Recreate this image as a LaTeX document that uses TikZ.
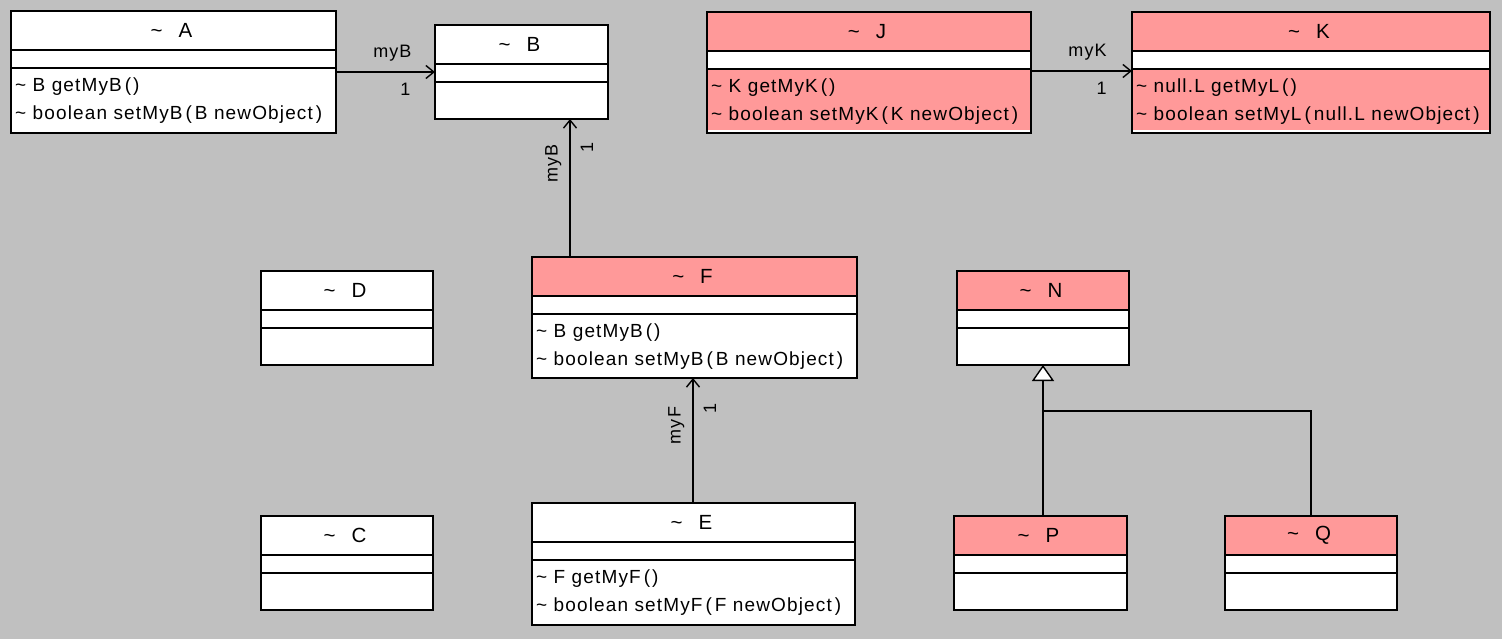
\documentclass[tikz,border=0pt]{standalone}
\usepackage{fontspec}
\setmainfont{Liberation Sans}
\newfontfamily\umlfont[LetterSpace=6]{Liberation Sans}
\usetikzlibrary{arrows.meta}
\definecolor{bgc}{HTML}{C0C0C0}
\definecolor{pinkc}{HTML}{FF9999}
\newcommand{\tildech}{\textasciitilde}
\newcommand{\pgap}{\hspace{3pt}}
\tikzset{
  clsnode/.style={fill=white, draw=none, inner sep=0pt, outer sep=0pt},
  boxline/.style={line width=1.6pt, draw=black},
  divline/.style={line width=1.6pt, draw=black},
  titletext/.style={font=\umlfont\fontsize{20.5}{22}\selectfont, inner sep=0pt},
  methtext/.style={font=\umlfont\fontsize{19}{21}\selectfont, inner sep=0pt, anchor=west},
  lbl/.style={font=\umlfont\fontsize{18}{20}\selectfont, inner sep=0pt},
  assoc/.style={line width=1.4pt, -{Straight Barb[length=8pt,width=13pt,line width=1.4pt]}},
  gen/.style={line width=1.4pt, -{Triangle[length=16pt,width=22pt,fill=white,line width=1.4pt]}},
  plainline/.style={line width=1.4pt}
}
% #1 name, #2 x, #3 y, #4 w, #5 h, #6 header fill, #7 methods fill, #8 title
\newcommand{\clsbox}[8]{%
  \node[clsnode, minimum width=#4pt, minimum height=#5pt, anchor=north west] (#1) at (#2,#3) {};
  \fill[#6] (#1.north west) rectangle ([yshift=-39pt]#1.north east);
  \fill[#7] ([yshift=-57pt]#1.north west) rectangle ([yshift=3pt]#1.south east);
  \draw[divline] ([yshift=-39pt]#1.north west) -- ([yshift=-39pt]#1.north east);
  \draw[divline] ([yshift=-57pt]#1.north west) -- ([yshift=-57pt]#1.north east);
  \draw[boxline] (#1.north west) rectangle (#1.south east);
  \node[titletext] (#1-title) at ([yshift=-19.5pt,xshift=-2pt]#1.north) {\tildech\hspace{16pt}#8};
}
% #1 name, #2 first method, #3 second method
\newcommand{\meths}[3]{%
  \node[methtext] (#1-m1) at ([xshift=4pt,yshift=-76pt]#1.north west) {#2};
  \node[methtext] (#1-m2) at ([xshift=4pt,yshift=-104pt]#1.north west) {#3};
}
\begin{document}
\begin{tikzpicture}[x=1pt,y=-1pt]
\fill[bgc] (0,0) rectangle (1502,639);
\useasboundingbox (0,0) rectangle (1502,639);

\clsbox{A}{11}{11}{325}{122}{white}{white}{A}
\meths{A}{\tildech\ B getMyB\pgap(\hspace{2pt})}{\tildech\ boolean setMyB\pgap(\pgap B newObject\pgap)}
\clsbox{B}{435}{25}{173}{94}{white}{white}{B}
\clsbox{J}{707}{12}{324}{121}{pinkc}{pinkc}{J}
\meths{J}{\tildech\ K getMyK\pgap(\hspace{2pt})}{\tildech\ boolean setMyK\pgap(\pgap K newObject\pgap)}
\clsbox{K}{1132}{12}{358}{121}{pinkc}{pinkc}{K}
\meths{K}{\tildech\ null.L getMyL\pgap(\hspace{2pt})}{\tildech\ boolean setMyL\pgap(\pgap null.L newObject\pgap)}
\clsbox{D}{261}{271}{172}{94}{white}{white}{D}
\clsbox{F}{532}{257}{325}{121}{pinkc}{white}{F}
\meths{F}{\tildech\ B getMyB\pgap(\hspace{2pt})}{\tildech\ boolean setMyB\pgap(\pgap B newObject\pgap)}
\clsbox{N}{957}{271}{172}{94}{pinkc}{white}{N}
\clsbox{C}{261}{516}{172}{94}{white}{white}{C}
\clsbox{E}{532}{503}{323}{122}{white}{white}{E}
\meths{E}{\tildech\ F getMyF\pgap(\hspace{2pt})}{\tildech\ boolean setMyF\pgap(\pgap F newObject\pgap)}
\clsbox{P}{954}{516}{173}{94}{pinkc}{white}{P}
\clsbox{Q}{1225}{516}{172}{94}{pinkc}{white}{Q}

% associations
\draw[assoc] (A) -- (B)
  node[lbl, pos=0.57, above=10pt] {myB}
  node[lbl, pos=0.70, below=10pt] {1};
\draw[assoc] ([yshift=1.5pt]J.east) -- ([yshift=1.5pt]K.west)
  node[lbl, pos=0.56, above=10pt] {myK}
  node[lbl, pos=0.70, below=10pt] {1};
\coordinate (fb) at ([xshift=38pt]F.north west);
\draw[assoc] (fb) -- (fb |- B.south)
  node[lbl, pos=0.68, rotate=90, anchor=south, yshift=8pt] {myB}
  node[lbl, pos=0.79, rotate=90, anchor=north, yshift=-10pt] {1};
\coordinate (ef) at ([xshift=-0.5pt]E.north);
\draw[assoc] (ef) -- (ef |- F.south)
  node[lbl, pos=0.62, rotate=90, anchor=south, yshift=8pt] {myF}
  node[lbl, pos=0.76, rotate=90, anchor=north, yshift=-10pt] {1};

% generalization
\coordinate (jn) at ([yshift=-46pt]N.south);
\draw[gen] (P.north -| N.south) -- (N.south);
\draw[plainline] (Q.north) |- (jn);
\end{tikzpicture}
\end{document}
